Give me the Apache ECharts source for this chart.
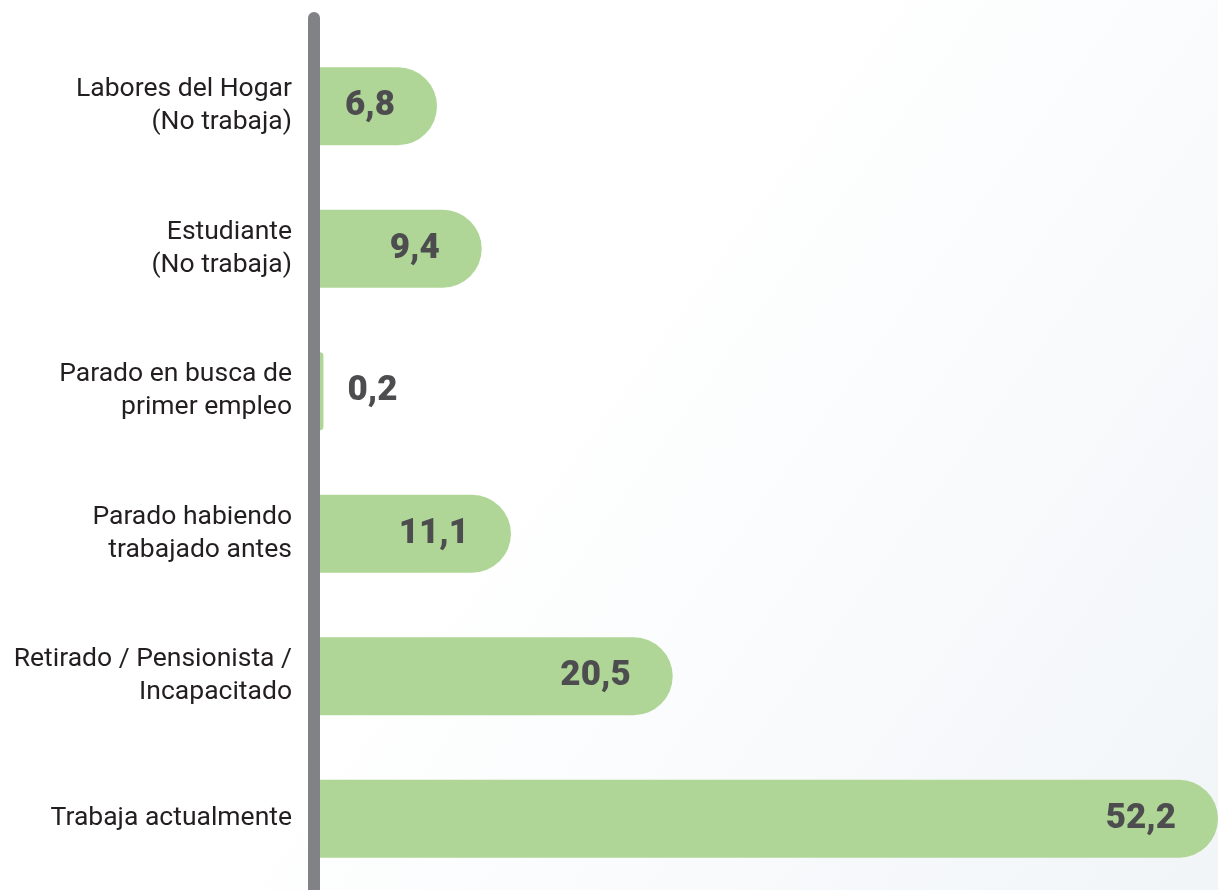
<!DOCTYPE html>
<html>
<head>
<meta charset="utf-8">
<script src="https://cdn.jsdelivr.net/npm/echarts@6/dist/echarts.min.js"></script>
<style>
  html, body { margin: 0; padding: 0; }
  #chart { width: 1218px; height: 890px; }
</style>
</head>
<body>
<div id="chart"></div>
<script>
const categories = [
  "Labores del Hogar\n(No trabaja)",
  "Estudiante\n(No trabaja)",
  "Parado en busca de\nprimer empleo",
  "Parado habiendo\ntrabajado antes",
  "Retirado / Pensionista /\nIncapacitado",
  "Trabaja actualmente"
];
const values = [6.8, 9.4, 0.2, 11.1, 20.5, 52.2];

const fmt = (v) => v.toFixed(1).replace(".", ",");

const chart = echarts.init(document.getElementById("chart"));

chart.setOption({
  backgroundColor: {
    type: "linear", x: 0, y: 0, x2: 1, y2: 1,
    colorStops: [
      { offset: 0.45, color: "#ffffff" },
      { offset: 1, color: "#f1f5f8" }
    ]
  },
  animation: false,
  grid: { left: 320, right: 0, top: 35, height: 857 },
  xAxis: {
    type: "value",
    min: 0,
    max: 52.2,
    show: false
  },
  yAxis: {
    type: "category",
    data: categories,
    inverse: true,
    axisLine: { show: false },
    axisTick: { show: false },
    axisLabel: {
      margin: 28,
      fontFamily: "Roboto",
      fontSize: 26.5,
      lineHeight: 33,
      color: "#231f20",
      align: "right"
    }
  },
  graphic: [{
    type: "line",
    shape: { x1: 314, y1: 18, x2: 314, y2: 900 },
    style: { stroke: "#808285", lineWidth: 12, lineCap: "round" },
    z: 10
  }],
  series: [{
    type: "bar",
    barWidth: 78,
    data: values.map((v) => ({
      value: v,
      label: v < 1 ? { position: "right", distance: 24 } : {}
    })),
    itemStyle: { color: "#afd697", borderRadius: [0, 39, 39, 0] },
    label: {
      show: true,
      position: "insideRight",
      distance: 42,
      formatter: (p) => fmt(p.value),
      fontFamily: "Roboto",
      fontWeight: 900,
      fontSize: 35,
      color: "#4d4d4f"
    }
  }]
});
</script>
</body>
</html>
